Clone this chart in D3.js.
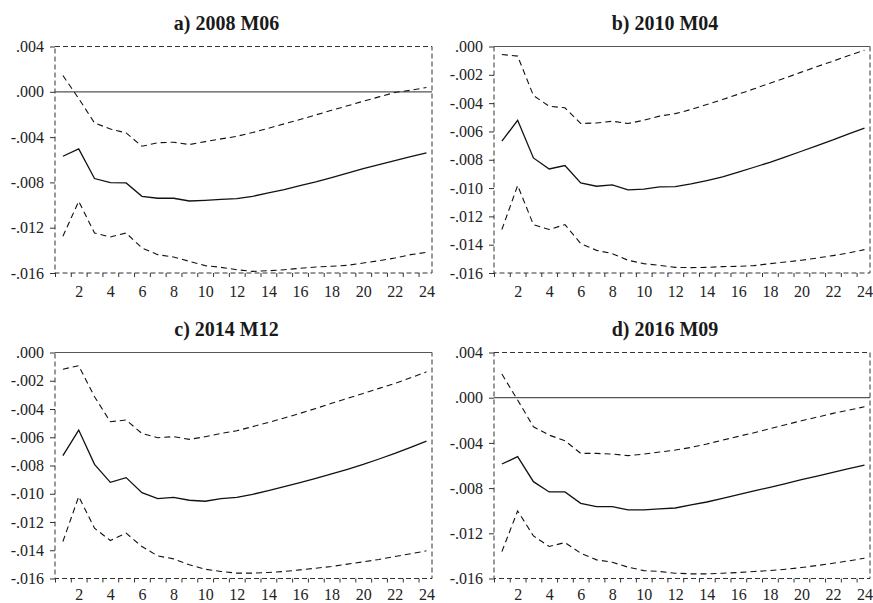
<!DOCTYPE html>
<html>
<head>
<meta charset="utf-8">
<script src="https://cdn.jsdelivr.net/npm/d3@7/dist/d3.min.js"></script>
<style>
  body { margin: 0; background: #fff; }
</style>
</head>
<body>
<svg id="chart" width="873" height="603"></svg>
<script>
// horizons (months after the shock)
const horizons = d3.range(1, 25);
const xTickLabels = [2, 4, 6, 8, 10, 12, 14, 16, 18, 20, 22, 24];

const titles = ['a) 2008 M06', 'b) 2010 M04', 'c) 2014 M12', 'd) 2016 M09'];

const yTicksWide = [0.004, 0.000, -0.004, -0.008, -0.012, -0.016];
const yTicksNarrow = [0.000, -0.002, -0.004, -0.006, -0.008, -0.010, -0.012, -0.014, -0.016];

// a) 2008 M06
const respA  = [-0.00569, -0.00504, -0.00766, -0.00802, -0.00805, -0.00923, -0.0094, -0.0094, -0.00964, -0.00958, -0.0095, -0.00943, -0.00923, -0.00893, -0.00864, -0.00828, -0.00796, -0.00758, -0.00719, -0.00678, -0.00643, -0.00607, -0.00572, -0.0054];
const upperA = [0.00144, -0.0006, -0.00275, -0.00328, -0.00363, -0.00481, -0.0045, -0.00445, -0.00466, -0.0044, -0.00416, -0.00393, -0.0036, -0.00322, -0.00283, -0.00245, -0.00204, -0.00163, -0.00124, -0.00083, -0.00045, -0.00006, 0.00014, 0.00038];
const lowerA = [-0.01276, -0.00967, -0.01247, -0.01282, -0.01247, -0.01379, -0.01438, -0.01459, -0.01497, -0.01535, -0.0155, -0.01571, -0.01586, -0.0158, -0.01571, -0.01559, -0.01547, -0.01541, -0.01532, -0.01512, -0.01491, -0.01468, -0.01438, -0.01418];

// b) 2010 M04
const respB  = [-0.00669, -0.00521, -0.00787, -0.00865, -0.00841, -0.00964, -0.00987, -0.00978, -0.01013, -0.01008, -0.00992, -0.0099, -0.00971, -0.00947, -0.00921, -0.00888, -0.00853, -0.00818, -0.0078, -0.0074, -0.007, -0.0066, -0.00617, -0.00577];
const upperB = [-0.00057, -0.00068, -0.00346, -0.00422, -0.00433, -0.00544, -0.0054, -0.00528, -0.00544, -0.00521, -0.00492, -0.00474, -0.00445, -0.0041, -0.00375, -0.00337, -0.00299, -0.00259, -0.00221, -0.00181, -0.00141, -0.00104, -0.00064, -0.00026];
const lowerB = [-0.01293, -0.00982, -0.01258, -0.01293, -0.01258, -0.01392, -0.0144, -0.01463, -0.0151, -0.01534, -0.01546, -0.0156, -0.01562, -0.0156, -0.01555, -0.01553, -0.01548, -0.01534, -0.01522, -0.0151, -0.01494, -0.01477, -0.01458, -0.01435];

// c) 2014 M12
const respC  = [-0.0073, -0.00549, -0.00792, -0.00919, -0.00886, -0.00992, -0.01034, -0.01025, -0.01046, -0.01053, -0.01034, -0.01025, -0.01004, -0.00978, -0.0095, -0.00921, -0.00891, -0.0086, -0.00827, -0.00792, -0.00754, -0.00714, -0.00671, -0.00627];
const upperC = [-0.00118, -0.00094, -0.00313, -0.0049, -0.00478, -0.00573, -0.00603, -0.00596, -0.00615, -0.00596, -0.00573, -0.00554, -0.00525, -0.00495, -0.00464, -0.00431, -0.00396, -0.0036, -0.00325, -0.0029, -0.00254, -0.00219, -0.00179, -0.00137];
const lowerC = [-0.01338, -0.0102, -0.01244, -0.01331, -0.01279, -0.01374, -0.0144, -0.01461, -0.01503, -0.01534, -0.0155, -0.01562, -0.01562, -0.01557, -0.0155, -0.01539, -0.01527, -0.01515, -0.01498, -0.01482, -0.01465, -0.01444, -0.01425, -0.01404];

// d) 2016 M09
const respD  = [-0.00587, -0.00522, -0.00743, -0.00834, -0.00834, -0.00935, -0.00964, -0.00964, -0.00993, -0.00993, -0.00984, -0.00976, -0.00949, -0.00923, -0.0089, -0.00858, -0.00825, -0.00793, -0.0076, -0.00725, -0.00693, -0.00661, -0.00628, -0.00596];
const upperD = [0.00209, -0.00021, -0.00257, -0.00331, -0.00381, -0.00493, -0.00493, -0.00499, -0.00513, -0.00499, -0.00481, -0.00463, -0.0044, -0.0041, -0.00375, -0.00342, -0.0031, -0.00275, -0.00239, -0.00204, -0.00172, -0.00139, -0.0011, -0.0008];
const lowerD = [-0.01362, -0.01002, -0.01223, -0.01317, -0.01282, -0.01376, -0.01435, -0.01456, -0.015, -0.0153, -0.01538, -0.01553, -0.01559, -0.01559, -0.01553, -0.01547, -0.01538, -0.0153, -0.01518, -0.01503, -0.01485, -0.01465, -0.01444, -0.01421];

// panel frames (layout only)
const panels = [
  {title: titles[0], resp: respA, upper: upperA, lower: lowerA, yMax: 0.004, yTicks: yTicksWide,   left: 55,  right: 432, top: 46.5,  bottom: 273,   labelPad: 12.5},
  {title: titles[1], resp: respB, upper: upperB, lower: lowerB, yMax: 0.000, yTicks: yTicksNarrow, left: 494, right: 870, top: 46.5,  bottom: 273,   labelPad: 12.5},
  {title: titles[2], resp: respC, upper: upperC, lower: lowerC, yMax: 0.000, yTicks: yTicksNarrow, left: 55,  right: 432, top: 352.5, bottom: 578.5, labelPad: 10},
  {title: titles[3], resp: respD, upper: upperD, lower: lowerD, yMax: 0.004, yTicks: yTicksWide,   left: 494, right: 870, top: 352.5, bottom: 578.5, labelPad: 10}
];

const font = '"Liberation Serif", "Times New Roman", serif';
const fmt = v => v.toFixed(3).replace('0.', '.');
const svg = d3.select('#chart');

panels.forEach(p => {
  const x = d3.scaleLinear().domain([0.5, 24.35]).range([p.left, p.right]);
  const y = d3.scaleLinear().domain([-0.016, p.yMax]).range([p.bottom, p.top]);
  const g = svg.append('g');

  // title
  g.append('text')
    .attr('x', (p.left + p.right) / 2 - 17)
    .attr('y', p.top - 17)
    .attr('text-anchor', 'middle')
    .style('font-family', font)
    .style('font-weight', 'bold')
    .style('font-size', '20px')
    .style('fill', '#1a1a1a')
    .text(p.title);

  // dashed frame
  g.append('rect')
    .attr('x', p.left).attr('y', p.top)
    .attr('width', p.right - p.left).attr('height', p.bottom - p.top)
    .attr('fill', 'none')
    .attr('stroke', '#333')
    .attr('stroke-width', 1)
    .attr('stroke-dasharray', '5,3');

  // left axis
  const ya = g.append('g')
    .attr('transform', `translate(${p.left},0)`)
    .call(d3.axisLeft(y).tickValues(p.yTicks).tickSize(5).tickPadding(6).tickFormat(fmt));
  ya.select('.domain').remove();
  ya.selectAll('line').attr('stroke', '#333');
  ya.selectAll('text').style('font-family', font).style('font-size', '16px').style('fill', '#222');

  // bottom ticks between observations
  const xt = g.append('g')
    .attr('transform', `translate(0,${p.bottom})`)
    .call(d3.axisBottom(x).tickValues(d3.range(0.5, 24, 1)).tickSize(4).tickFormat(''));
  xt.select('.domain').remove();
  xt.selectAll('line').attr('stroke', '#333');

  // bottom labels
  const xl = g.append('g')
    .attr('transform', `translate(0,${p.bottom})`)
    .call(d3.axisBottom(x).tickValues(xTickLabels).tickSize(0).tickPadding(p.labelPad));
  xl.select('.domain').remove();
  xl.selectAll('text').style('font-family', font).style('font-size', '16px').style('fill', '#222');

  // zero line
  g.append('line')
    .attr('x1', p.left).attr('x2', p.right)
    .attr('y1', y(0)).attr('y2', y(0))
    .attr('stroke', '#555')
    .attr('stroke-width', 1.2);

  const line = d3.line()
    .x((d, i) => x(horizons[i]))
    .y(d => y(d));

  [p.upper, p.lower].forEach(band => {
    g.append('path')
      .attr('d', line(band))
      .attr('fill', 'none')
      .attr('stroke', '#111')
      .attr('stroke-width', 1.1)
      .attr('stroke-dasharray', '6,4');
  });

  g.append('path')
    .attr('d', line(p.resp))
    .attr('fill', 'none')
    .attr('stroke', '#111')
    .attr('stroke-width', 1.3);
});
</script>
</body>
</html>
